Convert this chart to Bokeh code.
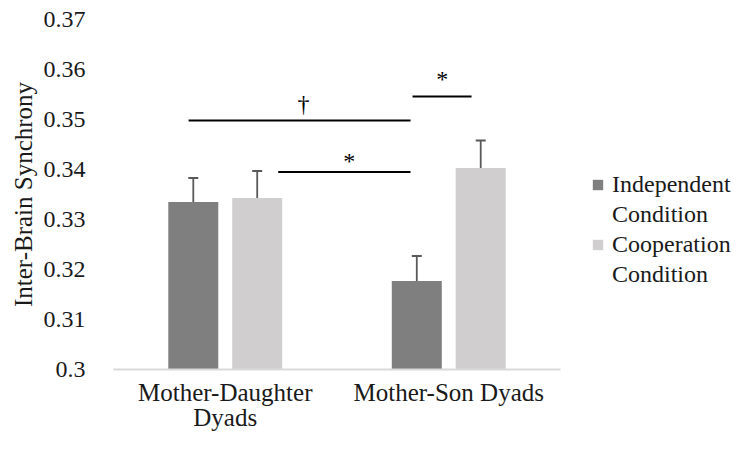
from bokeh.plotting import figure
from bokeh.models import ColumnDataSource, Whisker, FixedTicker, Legend, LegendItem, TeeHead
from bokeh.transform import dodge
from bokeh.core.properties import value
from bokeh.embed import file_html
from bokeh.resources import INLINE

# ---- data ----
groups = ["Mother-Daughter\nDyads", "Mother-Son Dyads"]
independent = [0.3335, 0.3177]
independent_err = [0.0048, 0.0050]
cooperation = [0.3343, 0.3403]
cooperation_err = [0.0054, 0.0055]
legend_lines = ["Independent", "Condition", "Cooperation", "Condition"]
y_ticks = [0.30, 0.31, 0.32, 0.33, 0.34, 0.35, 0.36, 0.37]
y_tick_labels = ["0.3", "0.31", "0.32", "0.33", "0.34", "0.35", "0.36", "0.37"]

# significance brackets (x in category units, y in data units)
bracket_x0 = [0.336, 0.737, 1.338]
bracket_x1 = [1.329, 1.329, 1.602]
bracket_y = [0.3498, 0.3395, 0.3546]
marker_x = [0.850, 1.055, 1.471]
marker_y = [0.3531, 0.3418, 0.3581]
marker_text = ["\u2020", "*", "*"]

FONT = "Times New Roman"
DARK = "#7f7f7f"
LIGHT = "#d0cece"
TEXT = "#1a1a1a"

src = ColumnDataSource(dict(
    g=groups,
    ind=independent,
    ind_lo=[v - e for v, e in zip(independent, independent_err)],
    ind_hi=[v + e for v, e in zip(independent, independent_err)],
    coop=cooperation,
    coop_lo=[v - e for v, e in zip(cooperation, cooperation_err)],
    coop_hi=[v + e for v, e in zip(cooperation, cooperation_err)],
))

p = figure(x_range=groups, y_range=(0.30, 0.37),
           frame_width=447, frame_height=350,
           output_backend="svg", toolbar_location=None,
           min_border_left=113, min_border_right=169,
           min_border_top=19, min_border_bottom=60)
p.outline_line_color = None
p.grid.grid_line_color = None
p.background_fill_color = "white"

bw = 0.2237
off = 0.143
r1 = p.vbar(x=dodge("g", -off, range=p.x_range), top="ind", bottom=0.30, width=bw,
            source=src, fill_color=DARK, line_color=None)
r2 = p.vbar(x=dodge("g", off, range=p.x_range), top="coop", bottom=0.30, width=bw,
            source=src, fill_color=LIGHT, line_color=None)
# transparent renderer used only for the second line of each legend entry
blank = p.vbar(x=[groups[0]], top=[y_ticks[0]], bottom=y_ticks[0], width=0.0,
               fill_alpha=0, line_alpha=0)

for key, o in (("ind", -off), ("coop", off)):
    w = Whisker(base=dodge("g", o, range=p.x_range), upper=key + "_hi", lower=key + "_lo",
                source=src, line_color="#595959", line_width=1.8,
                upper_head=TeeHead(size=10, line_color="#595959", line_width=1.8),
                lower_head=TeeHead(size=10, line_color="#595959", line_width=1.8))
    p.add_layout(w)

# significance lines and markers
p.segment(x0=bracket_x0, x1=bracket_x1, y0=bracket_y, y1=bracket_y,
          line_color="black", line_width=2)
p.text(x=marker_x, y=marker_y, text=marker_text, text_font=value(FONT),
       text_font_size="24px", text_align="center", text_baseline="middle",
       text_color="black")

# axes
yax = p.yaxis[0]
yax.ticker = FixedTicker(ticks=y_ticks)
yax.major_label_overrides = {t: l for t, l in zip(y_ticks, y_tick_labels)}
yax.axis_line_color = None
yax.major_tick_line_color = None
yax.minor_tick_line_color = None
yax.major_label_standoff = 22
yax.major_label_text_font = FONT
yax.major_label_text_font_size = "24px"
yax.major_label_text_color = TEXT
yax.axis_label = "Inter-Brain Synchrony"
yax.axis_label_text_font = FONT
yax.axis_label_text_font_style = "normal"
yax.axis_label_text_font_size = "25px"
yax.axis_label_text_color = TEXT
yax.axis_label_standoff = 4

xax = p.xaxis[0]
xax.axis_line_color = "#d9d9d9"
xax.axis_line_width = 2
xax.major_tick_line_color = None
xax.minor_tick_line_color = None
xax.major_label_standoff = 3
xax.major_label_text_font = FONT
xax.major_label_text_font_size = "25px"
xax.major_label_text_line_height = 0.95
xax.major_label_text_color = TEXT
xax.major_label_orientation = "horizontal"

legend = Legend(items=[LegendItem(label=legend_lines[0], renderers=[r1]),
                       LegendItem(label=legend_lines[1], renderers=[blank]),
                       LegendItem(label=legend_lines[2], renderers=[r2]),
                       LegendItem(label=legend_lines[3], renderers=[blank])],
                location=(31, 81), orientation="vertical",
                glyph_width=13, glyph_height=13, label_standoff=8,
                padding=0, margin=0, spacing=3, label_height=20,
                border_line_color=None, background_fill_alpha=0,
                label_text_font=FONT, label_text_font_size="24px",
                label_text_color=TEXT)
p.add_layout(legend, "right")

open("out.html", "w").write(file_html(p, INLINE))
